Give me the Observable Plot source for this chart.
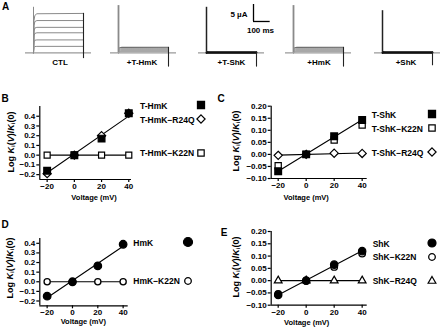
<!DOCTYPE html>
<html><head><meta charset="utf-8">
<script src="https://cdn.jsdelivr.net/npm/d3@7"></script>
<script src="https://cdn.jsdelivr.net/npm/@observablehq/plot@0.6"></script>
<style>
html,body{margin:0;padding:0;background:#fff;}
#root{position:relative;width:440px;height:331px;overflow:hidden;font-family:"Liberation Sans",Arial,sans-serif;font-weight:bold;color:#000;background:#fff;}
#root sub{font-size:0.68em;vertical-align:-0.22em;line-height:0;}
</style></head><body><div id="root"></div>
<script>
// ---------------- DATA ----------------
// Panel A: current traces (time in ms, current in µA)
const condLabels = ["CTL", "+T-HmK", "+T-ShK", "+HmK", "+ShK"];
const sweepMs = [-48, 348];
const pulseMs = [0, 300];
const spikePeakUA = [13.4, 13.9, 13.4, 13.9, 12.4];
const tailStartUA = [11.6, 1.6, 0.25, 1.6, 0.25];
const tailEndUA = [-1.7, -4.2, -4.2, -4.2, -3.8];
const traceTimesMs = [0, 3, 8, 20, 300];
const ctlTraces = [
  [0, 9.5, 11.0, 11.5, 11.6],
  [0, 8.0, 9.2, 9.5, 9.5],
  [0, 6.4, 7.3, 7.5, 7.5],
  [0, 5.0, 5.7, 5.9, 5.9],
  [0, 3.2, 3.7, 3.8, 3.8],
  [0, 1.6, 1.85, 1.9, 1.9]
];
const tHmKTraces = [
  [0, 1.3, 1.5, 1.6, 1.6],
  [0, 1.1, 1.2, 1.25, 1.3],
  [0, 0.8, 0.9, 0.95, 1.0],
  [0, 0.5, 0.6, 0.65, 0.7],
  [0, 0.3, 0.35, 0.4, 0.4]
];
const tShKTraces = [
  [0, 0.3, 0.25, 0.25, 0.25],
  [0, 0.15, 0.12, 0.1, 0.1],
  [0, 0, 0, 0, 0]
];
const hmkTraces = [
  [0, 1.3, 1.5, 1.6, 1.6],
  [0, 1.1, 1.2, 1.25, 1.3],
  [0, 0.8, 0.9, 0.95, 1.0],
  [0, 0.5, 0.6, 0.65, 0.7],
  [0, 0.3, 0.35, 0.4, 0.4]
];
const shkTraces = [
  [0, 0.3, 0.25, 0.25, 0.25],
  [0, 0.15, 0.12, 0.1, 0.1],
  [0, 0, 0, 0, 0]
];
const scaleBarMs = 100;
const scaleBarUA = 5;

// Panels B–E: log Ki(V)/Ki(0) vs voltage
const voltages = [-20, 0, 20, 40];
const xTicks = [-20, 0, 20, 40];
const yTicksHm = [-0.2, -0.1, 0.0, 0.1, 0.2, 0.3, 0.4];
const yTicksSh = [-0.10, -0.05, 0.00, 0.05, 0.10, 0.15, 0.20];

const bTHmK = [-0.16, 0.0, 0.17, 0.43];
const bTHmK_R24Q = [-0.19, 0.0, 0.20, 0.43];
const bTHmK_K22N = [0.0, 0.0, 0.0, 0.0];

const cTShK = [-0.07, 0.0, 0.075, 0.143];
const cTShK_K22N = [-0.047, 0.0, 0.06, 0.122];
const cTShK_R24Q = [-0.004, 0.0, 0.005, 0.004];

const dHmK = [-0.15, 0.0, 0.165, 0.39];
const dHmK_K22N = [0.0, 0.0, 0.0, 0.0];

const eShK = [-0.058, 0.0, 0.065, 0.12];
const eShK_K22N = [-0.054, 0.0, 0.056, 0.11];
const eShK_R24Q = [0.0, 0.0, 0.0, 0.0];

// ---------------- HELPERS ----------------
const root = document.getElementById("root");
const FONT = "'Liberation Sans', Arial, sans-serif";

function place(el, left, top) {
  el.style.position = "absolute";
  el.style.left = left + "px";
  el.style.top = top + "px";
  el.style.overflow = "visible";
  el.style.maxWidth = "none";
  root.appendChild(el);
  return el;
}
function label(html, x, y, {size = 7.5, anchor = "middle", rotate = 0} = {}) {
  const d = document.createElement("div");
  d.innerHTML = html;
  d.style.cssText = `position:absolute;left:${x}px;top:${y}px;font-size:${size}px;line-height:1;white-space:nowrap;`;
  const tx = anchor === "middle" ? "-50%" : anchor === "end" ? "-100%" : "0";
  d.style.transform = `translate(${tx},-50%)` + (rotate ? ` rotate(${rotate}deg)` : "");
  root.appendChild(d);
}
const symbolTypes = {square: d3.symbolSquare, diamond2: d3.symbolDiamond2, circle: d3.symbolCircle, triangle2: d3.symbolTriangle2};
function legendMarker(x, y, {symbol, r, fill, sw = 1.2}) {
  const ns = "http://www.w3.org/2000/svg";
  const svg = document.createElementNS(ns, "svg");
  svg.setAttribute("width", 20); svg.setAttribute("height", 20);
  svg.style.cssText = `position:absolute;left:${x - 10}px;top:${y - 10}px;overflow:visible;`;
  const p = document.createElementNS(ns, "path");
  p.setAttribute("d", d3.symbol(symbolTypes[symbol], Math.PI * r * r)());
  p.setAttribute("transform", "translate(10,10)");
  p.setAttribute("fill", fill); p.setAttribute("stroke", "black"); p.setAttribute("stroke-width", sw);
  svg.appendChild(p);
  root.appendChild(svg);
}

// ---------------- PANEL A ----------------
const traceSets = [ctlTraces, tHmKTraces, tShKTraces, hmkTraces, shkTraces];
const traceColor = ["#8a8a8a", "#a8a8a8", "#111", "#a8a8a8", "#111"];
const topColor = ["#8a8a8a", "#6e6e6e", "#111", "#6e6e6e", "#111"];
const spikeColor = ["#8a8a8a", "#8a8a8a", "#222", "#8a8a8a", "#222"];
const spikeWidth = [1, 1.8, 1.5, 1.8, 1.5];
const traceWidth = [1, 1.2, 1.6, 1.2, 1.6];
const aLeft = [25, 110.3, 197.7, 285.3, 373.7];
const aLabelX = [60, 142, 231.5, 319, 406];

condLabels.forEach((c, k) => {
  const rows = traceSets[k].flatMap((tr, j) => tr.map((v, i) => ({t: traceTimesMs[i], I: v, j})));
  const p = Plot.plot({
    width: 66, height: 70, margin: 0,
    x: {domain: sweepMs, axis: null},
    y: {domain: [-5.2, 15.4], axis: null},
    style: {background: "transparent", overflow: "visible"},
    marks: [
      Plot.ruleY([0], {x1: sweepMs[0], x2: sweepMs[1], stroke: "#9a9a9a", strokeWidth: 1.1}),
      Plot.line(rows, {x: "t", y: "I", z: "j", stroke: d => d.j === 0 ? topColor[k] : traceColor[k], strokeWidth: traceWidth[k]}),
      Plot.ruleX([pulseMs[0]], {y1: 0, y2: spikePeakUA[k], stroke: spikeColor[k], strokeWidth: spikeWidth[k]}),
      Plot.ruleX([pulseMs[1]], {y1: tailStartUA[k], y2: tailEndUA[k], stroke: "#222", strokeWidth: 1.1})
    ]
  });
  place(p, aLeft[k], 0);
  label(c, aLabelX[k], 63, {size: 8});
});

// scale bar
{
  const p = Plot.plot({
    width: 16.7, height: 17, margin: 0,
    x: {domain: [0, scaleBarMs], axis: null},
    y: {domain: [0, scaleBarUA], axis: null},
    style: {background: "transparent", overflow: "visible"},
    marks: [
      Plot.ruleX([0], {y1: 0, y2: scaleBarUA, stroke: "black", strokeWidth: 1.3}),
      Plot.ruleY([0], {x1: 0, x2: scaleBarMs, stroke: "black", strokeWidth: 1.3})
    ]
  });
  place(p, 252.7, 4);
  label(`${scaleBarUA} µA`, 247.5, 14.5, {anchor: "end", size: 8});
  label(`${scaleBarMs} ms`, 260.5, 30.5, {size: 8});
}

// ---------------- PANELS B–E ----------------
function scatter({left, top, width, height, mL, mR, mT, mB, xDomain, yDomain, yTicks, yFmt, series, fitNames}) {
  const rows = series.flatMap(s => voltages.map((v, i) => ({name: s.name, v, y: s.values[i]})));
  const p = Plot.plot({
    width, height, marginLeft: mL, marginRight: mR, marginTop: mT, marginBottom: mB,
    x: {domain: xDomain}, y: {domain: yDomain},
    style: {background: "transparent", overflow: "visible", fontFamily: FONT, fontWeight: "bold", fontSize: "8px", color: "black"},
    marks: [
      Plot.ruleY([yDomain[0]], {stroke: "black", strokeWidth: 1.2}),
      Plot.ruleX([xDomain[0]], {stroke: "black", strokeWidth: 1.2}),
      Plot.axisX({ticks: xTicks, tickFormat: d3.format("d"), tickSize: 3, tickPadding: 1, label: null, fontSize: 8, strokeWidth: 1.2}),
      Plot.axisY({ticks: yTicks, tickFormat: d3.format(yFmt), tickSize: 3, tickPadding: 1.5, label: null, fontSize: 8, strokeWidth: 1.2}),
      Plot.linearRegressionY(rows.filter(r => fitNames.includes(r.name)), {x: "v", y: "y", z: "name", stroke: "black", strokeWidth: 1.1, ci: 0}),
      ...series.map(s => Plot.dot(rows.filter(r => r.name === s.name), {x: "v", y: "y", symbol: s.symbol, r: s.r, fill: s.fill, stroke: "black", strokeWidth: s.sw ?? 1.2}))
    ]
  });
  place(p, left, top);
}
const yLabelHtml = "Log <i>K</i><sub>i</sub>(<i>V</i>)/<i>K</i><sub>i</sub>(0)";

// B
const seriesB = [
  {name: "T-HmK−R24Q", values: bTHmK_R24Q, symbol: "diamond2", r: 3.7, fill: "white"},
  {name: "T-HmK−K22N", values: bTHmK_K22N, symbol: "square", r: 3.4, fill: "white"},
  {name: "T-HmK", values: bTHmK, symbol: "square", r: 3.8, fill: "black"}
];
scatter({left: 0, top: 100, width: 135, height: 95, mL: 39.3, mR: 4, mT: 6, mB: 16,
  xDomain: [-25.4, 42], yDomain: [-0.25, 0.5], yTicks: yTicksHm, yFmt: ".1f",
  series: seriesB, fitNames: ["T-HmK", "T-HmK−K22N"]});
label(yLabelHtml, 10.5, 142, {rotate: -90, size: 9});
label("Voltage (mV)", 94, 197.5, {size: 7.5});
label("T-HmK", 140, 105.5, {anchor: "start", size: 8.5});
label("T-HmK−R24Q", 140, 119.5, {anchor: "start", size: 8.5});
label("T-HmK−K22N", 140, 153, {anchor: "start", size: 8.5});
legendMarker(201, 105, {symbol: "square", r: 4, fill: "black"});
legendMarker(201, 119.3, seriesB[0]);
legendMarker(200.5, 153, {symbol: "square", r: 3.6, fill: "white"});

// C
const seriesC = [
  {name: "T-ShK−R24Q", values: cTShK_R24Q, symbol: "diamond2", r: 3.7, fill: "white"},
  {name: "T-ShK−K22N", values: cTShK_K22N, symbol: "square", r: 3.5, fill: "white"},
  {name: "T-ShK", values: cTShK, symbol: "square", r: 3.8, fill: "black"}
];
scatter({left: 222, top: 100, width: 150, height: 95, mL: 48.7, mR: 5.3, mT: 5.7, mB: 17,
  xDomain: [-25, 43.6], yDomain: [-0.1, 0.2], yTicks: yTicksSh, yFmt: ".2f",
  series: seriesC, fitNames: ["T-ShK", "T-ShK−R24Q"]});
label(yLabelHtml, 235.5, 141, {rotate: -90, size: 9});
label("Voltage (mV)", 306.2, 197.7, {size: 7.5});
label("T-ShK", 371.7, 114.5, {anchor: "start", size: 8.5});
label("T-ShK−K22N", 371.7, 128.5, {anchor: "start", size: 8.5});
label("T-ShK−R24Q", 371.7, 152.5, {anchor: "start", size: 8.5});
legendMarker(432.3, 114.3, {symbol: "square", r: 4, fill: "black"});
legendMarker(432.3, 128.3, {symbol: "square", r: 3.6, fill: "white"});
legendMarker(432.3, 152.3, seriesC[0]);

// D
const seriesD = [
  {name: "HmK−K22N", values: dHmK_K22N, symbol: "circle", r: 3.1, fill: "white", sw: 1.3},
  {name: "HmK", values: dHmK, symbol: "circle", r: 3.8, fill: "black"}
];
scatter({left: 0, top: 225, width: 135, height: 95, mL: 39.3, mR: 7.3, mT: 13, mB: 14.7,
  xDomain: [-25.8, 44], yDomain: [-0.25, 0.45], yTicks: yTicksHm, yFmt: ".1f",
  series: seriesD, fitNames: ["HmK", "HmK−K22N"]});
label(yLabelHtml, 10.3, 268, {rotate: -90, size: 9});
label("Voltage (mV)", 83.3, 321.7, {size: 7.5});
label("HmK", 133.3, 243, {anchor: "start", size: 8.5});
label("HmK−K22N", 133.3, 281, {anchor: "start", size: 8.5});
legendMarker(187.7, 241.7, {symbol: "circle", r: 4.5, fill: "black"});
legendMarker(187.7, 280.7, {symbol: "circle", r: 3.3, fill: "white", sw: 1.3});

// E
const seriesE = [
  {name: "ShK−R24Q", values: eShK_R24Q, symbol: "triangle2", r: 3.7, fill: "white"},
  {name: "ShK−K22N", values: eShK_K22N, symbol: "circle", r: 3.3, fill: "white", sw: 1.3},
  {name: "ShK", values: eShK, symbol: "circle", r: 3.7, fill: "black"}
];
scatter({left: 222, top: 225, width: 150, height: 95, mL: 48.7, mR: 5.3, mT: 6, mB: 15.3,
  xDomain: [-25, 43.6], yDomain: [-0.1, 0.2], yTicks: yTicksSh, yFmt: ".2f",
  series: seriesE, fitNames: ["ShK", "ShK−R24Q"]});
label(yLabelHtml, 235.5, 267, {rotate: -90, size: 9});
label("Voltage (mV)", 306.7, 323.3, {size: 7.5});
label("ShK", 372.7, 243.5, {anchor: "start", size: 8.5});
label("ShK−K22N", 372.7, 257, {anchor: "start", size: 8.5});
label("ShK−R24Q", 372.7, 281, {anchor: "start", size: 8.5});
legendMarker(432.3, 243.3, {symbol: "circle", r: 4, fill: "black"});
legendMarker(432.3, 256.7, {symbol: "circle", r: 3.3, fill: "white", sw: 1.3});
legendMarker(432.3, 280.7, seriesE[0]);

// Panel letters
label("A", 5.5, 7, {size: 10});
label("B", 5, 98.5, {size: 10});
label("C", 221, 98.5, {size: 10});
label("D", 5, 225, {size: 10});
label("E", 224, 233.3, {size: 10});
</script></body></html>
